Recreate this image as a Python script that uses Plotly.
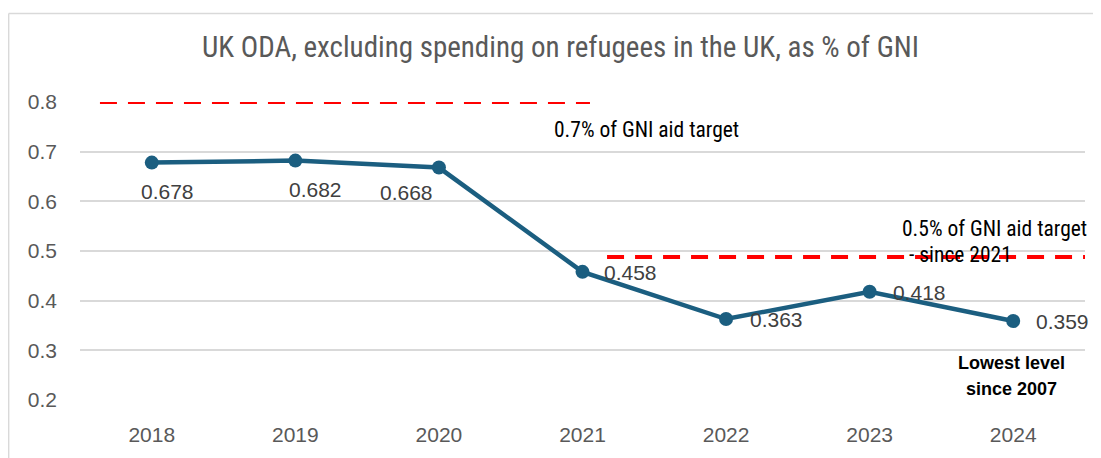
import plotly.graph_objects as go

years = ["2018", "2019", "2020", "2021", "2022", "2023", "2024"]
oda_pct_gni = [0.678, 0.682, 0.668, 0.458, 0.363, 0.418, 0.359]
value_labels = ["0.678", "0.682", "0.668", "0.458", "0.363", "0.418", "0.359"]
y_ticks = [0.2, 0.3, 0.4, 0.5, 0.6, 0.7, 0.8]
y_tick_labels = ["0.2", "0.3", "0.4", "0.5", "0.6", "0.7", "0.8"]

title_text = "UK ODA, excluding spending on refugees in the UK, as % of GNI"
target_07_text = "0.7% of GNI aid target"
target_05_text = ["0.5% of GNI aid target", "- since 2021"]
lowest_text = ["Lowest level", "since 2007"]

# label offsets (pixels) for the data labels
label_dx = [16, 20, -32, 48, 50, 50, 49]
label_dy = [-29, -29, -25, -1, 0, -1, 0]

LINE_COLOR = "#1b5e80"
NARROW = "Liberation Sans Narrow, Arial Narrow, Roboto Condensed, sans-serif"
SANS = "Liberation Sans, Arial, sans-serif"

fig = go.Figure()
fig.add_trace(go.Scatter(
    x=years, y=oda_pct_gni, mode="lines+markers",
    line=dict(color=LINE_COLOR, width=4.5),
    marker=dict(color=LINE_COLOR, size=14),
    hoverinfo="x+y", showlegend=False,
))

annotations = []
for i, (yr, v, lab) in enumerate(zip(years, oda_pct_gni, value_labels)):
    annotations.append(dict(
        x=i, y=v, xref="x", yref="y", text=lab, showarrow=False,
        xshift=label_dx[i], yshift=label_dy[i],
        font=dict(family=SANS, size=21, color="#404040"),
    ))

annotations += [
    dict(x=0.478, y=1.183, xref="paper", yref="paper", text=title_text,
         xanchor="center", yanchor="middle",
         showarrow=False, font=dict(family=NARROW, size=29, color="#595959")),
    dict(x=2.788, y=0.745, xref="x", yref="y", text=target_07_text, xanchor="left",
         showarrow=False, font=dict(family=NARROW, size=21.5, color="#000000")),
    dict(x=5.212, y=0.546, xref="x", yref="y", text=target_05_text[0], xanchor="left",
         showarrow=False, font=dict(family=NARROW, size=21.5, color="#000000")),
    dict(x=5.262, y=0.492, xref="x", yref="y", text=target_05_text[1], xanchor="left",
         showarrow=False, font=dict(family=NARROW, size=21.5, color="#000000")),
    dict(x=5.985, y=0.274, xref="x", yref="y", text="<b>" + lowest_text[0] + "</b>",
         showarrow=False, font=dict(family=SANS, size=18, color="#000000")),
    dict(x=5.985, y=0.222, xref="x", yref="y", text="<b>" + lowest_text[1] + "</b>",
         showarrow=False, font=dict(family=SANS, size=18, color="#000000")),
]

shapes = [
    # chart frame
    dict(type="line", xref="paper", yref="paper", x0=-0.071, x1=-0.071, y0=1.297, y1=-0.3,
         line=dict(color="#d9d9d9", width=1.5)),
    dict(type="line", xref="paper", yref="paper", x0=-0.071, x1=1.05, y0=1.297, y1=1.297,
         line=dict(color="#d9d9d9", width=1.5)),
    # target lines
    dict(type="line", xref="x", yref="y", x0=-0.361, x1=3.052, y0=0.8, y1=0.8,
         line=dict(color="#ff0000", width=4, dash="17px,11px"), layer="above"),
    dict(type="line", xref="x", yref="y", x0=3.171, x1=6.5, y0=0.488, y1=0.488,
         line=dict(color="#ff0000", width=4, dash="17px,11px"), layer="above"),
]

# The page body has an 8px margin, so the figure is 8px smaller and margins shifted.
fig.update_layout(
    width=1093, height=450,
    margin=dict(l=72, r=16, t=94, b=55),
    paper_bgcolor="white", plot_bgcolor="white",
    annotations=annotations, shapes=shapes,
    xaxis=dict(type="category", range=[-0.5, 6.5], showgrid=False, zeroline=False,
               showline=False, ticks="", ticklabelstandoff=20,
               tickfont=dict(family=SANS, size=21, color="#595959")),
    yaxis=dict(range=[0.2, 0.8], tickvals=y_ticks, ticktext=y_tick_labels,
               showgrid=True, gridcolor="#d9d9d9", gridwidth=1.5, zeroline=False,
               showline=False, ticks="", ticklabelstandoff=22,
               tickfont=dict(family=SANS, size=21, color="#595959")),
)

fig.write_html("out.html")
